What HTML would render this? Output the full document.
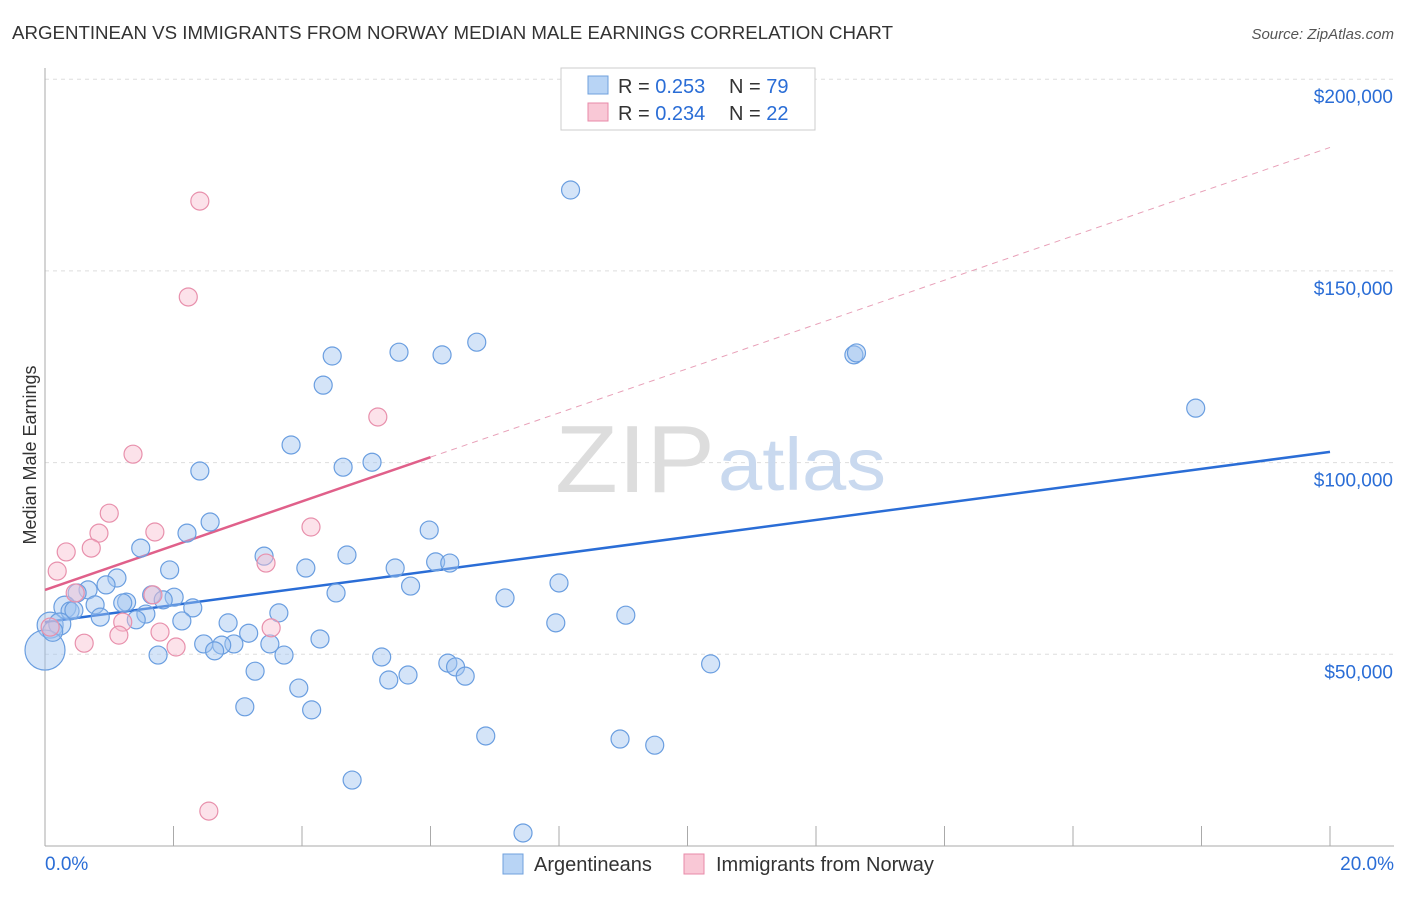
<!DOCTYPE html>
<html><head><meta charset="utf-8"><style>
body{margin:0;background:#fff;font-family:"Liberation Sans",sans-serif;}
svg text{font-family:"Liberation Sans",sans-serif;}
</style></head><body>
<svg id="chart" width="1406" height="892" xmlns="http://www.w3.org/2000/svg">
<text x="12" y="39" font-size="18" fill="#333" textLength="881" lengthAdjust="spacingAndGlyphs">ARGENTINEAN VS IMMIGRANTS FROM NORWAY MEDIAN MALE EARNINGS CORRELATION CHART</text>
<text x="1394" y="39" font-size="15" fill="#555" font-style="italic" text-anchor="end">Source: ZipAtlas.com</text>
<text x="36" y="455" font-size="18" fill="#333" transform="rotate(-90 36 455)" text-anchor="middle">Median Male Earnings</text>
<g id="grid"></g>
<text x="555" y="492" font-size="96" fill="#ddd" textLength="160" lengthAdjust="spacingAndGlyphs" font-family="Liberation Serif">ZIP</text>
<text x="718" y="490" font-size="74" fill="#c9d9ef" textLength="168" lengthAdjust="spacingAndGlyphs">atlas</text>
<g id="lines"></g>
<g id="pts"></g>
<g>
<rect x="561" y="68" width="254" height="62" fill="#fff" stroke="#ccc"/>
<rect x="588" y="76" width="20" height="18" fill="#b8d4f5" stroke="#6fa0dd"/>
<text x="618" y="93" font-size="20" fill="#333">R = <tspan fill="#2a6dd6">0.253</tspan></text>
<text x="729" y="93" font-size="20" fill="#333">N = <tspan fill="#2a6dd6">79</tspan></text>
<rect x="588" y="103" width="20" height="18" fill="#f9c8d6" stroke="#e88aa8"/>
<text x="618" y="120" font-size="20" fill="#333">R = <tspan fill="#2a6dd6">0.234</tspan></text>
<text x="729" y="120" font-size="20" fill="#333">N = <tspan fill="#2a6dd6">22</tspan></text>
</g>
<g>
<rect x="503" y="854" width="20" height="20" fill="#b8d4f5" stroke="#6fa0dd"/>
<text x="534" y="871" font-size="20" fill="#333">Argentineans</text>
<rect x="684" y="854" width="20" height="20" fill="#f9c8d6" stroke="#e88aa8"/>
<text x="716" y="871" font-size="20" fill="#333">Immigrants from Norway</text>
</g>
</svg>
<script>
const yTicks=[50000,100000,150000,200000];
const yTickLabels=["$50,000","$100,000","$150,000","$200,000"];
const xTickLabels=["0.0%","20.0%"];
const blueX=[8.18,6.72,5.51,4.47,6.18,12.59,12.63,4.33,17.91,3.83,4.64,5.09,2.41,2.57,5.98,2.21,1.49,3.41,4.70,6.08,6.30,4.06,5.45,1.94,8.00,1.12,5.69,0.95,0.67,0.50,4.53,1.66,2.01,1.84,7.16,1.27,1.21,0.78,0.31,2.30,0.39,3.64,9.04,0.86,1.57,1.42,2.13,2.85,7.95,0.08,0.23,3.17,4.28,3.50,2.94,2.75,2.47,2.64,3.72,1.76,5.24,0,6.27,6.39,10.36,3.27,6.54,5.65,5.35,3.95,3.11,4.15,6.86,8.95,9.49,4.78,7.44,0.12,0.45];
const blueY=[171.1,131.4,128.8,127.8,128.1,128.1,128.6,120.2,114.2,104.6,98.8,100.1,97.8,84.5,82.4,81.6,77.7,75.6,75.9,74.1,73.8,72.5,72.5,72.0,68.6,69.9,67.8,68.1,66.8,66.0,66.0,65.5,64.9,64.2,64.7,63.6,63.4,62.9,62.3,62.1,61.3,60.8,60.2,59.7,60.5,59.0,58.7,58.2,58.2,57.6,57.9,55.5,54.0,52.7,52.7,52.4,52.7,50.9,49.8,49.8,49.3,51.1,47.7,46.7,47.5,45.6,44.3,44.6,43.3,41.2,36.3,35.5,28.7,27.9,26.3,17.2,3.4,56.0,61.5];
const blueR=[9,9,9,9,9,9,9,9,9,9,9,9,9,9,9,9,9,9,9,9,9,9,9,9,9,9,9,9,9,9,9,9,9,9,9,9,9,9,11,9,9,9,9,9,9,9,9,9,9,13,11,9,9,9,9,9,9,9,9,9,9,20,9,9,9,9,9,9,9,9,9,9,9,9,9,9,9,10,9];
const pinkX=[2.41,2.23,5.18,1.37,1.00,4.14,1.71,0.84,0.33,0.72,3.44,0.19,0.47,1.68,1.21,3.52,0.08,1.79,1.15,2.04,0.61,2.55];
const pinkY=[168.2,143.2,111.9,102.2,86.8,83.2,81.9,81.6,76.7,77.7,73.8,71.7,66.0,65.5,58.4,56.9,57.1,55.8,55.0,51.9,52.9,9.1];
const blueTrend=[58.4,102.8];
const pinkTrend=[66.8,182.2];
const ns="http://www.w3.org/2000/svg";
const X=v=>45+v/20*1285, Y=v=>846-v/50000*191.7;
function mk(t,a,p){const e=document.createElementNS(ns,t);for(const k in a)e.setAttribute(k,a[k]);p.appendChild(e);return e;}
const grid=document.getElementById('grid');
yTicks.forEach((t,i)=>{
 const l=mk('line',{x1:45,x2:1394,y1:Y(t),y2:Y(t),stroke:'#ddd','stroke-dasharray':'4,4'},grid);
 
 
 const tx=mk('text',{x:1393,y:Y(t)+24,'font-size':19,fill:'#2a6dd6','text-anchor':'end'},grid);tx.textContent=yTickLabels[i];
 
 
});
mk('line',{x1:45,x2:45,y1:68,y2:846,stroke:'#aaa'},grid);
mk('line',{x1:45,x2:1394,y1:846,y2:846,stroke:'#aaa'},grid);
for(let i=0;i<=10;i++){mk('line',{x1:X(i*2),x2:X(i*2),y1:826,y2:846,stroke:'#aaa'},grid);}
[[0,'start',45],[1,'end',1394]].forEach(([i,a,x])=>{const t=mk('text',{x:x,y:870,'font-size':19,fill:'#2a6dd6','text-anchor':a},grid);t.textContent=xTickLabels[i];
 
 });
const lines=document.getElementById('lines');
const bl=mk('line',{x1:X(0),y1:Y(blueTrend[0]*1000),x2:X(20),y2:Y(blueTrend[1]*1000),stroke:'#2a6dd6','stroke-width':2.5},lines);


const pm=v=>pinkTrend[0]+(pinkTrend[1]-pinkTrend[0])*v/20;
const pd=mk('line',{x1:X(6),y1:Y(pm(6)*1000),x2:X(20),y2:Y(pm(20)*1000),stroke:'#e8a0b8','stroke-width':1,'stroke-dasharray':'6,5'},lines);


const ps=mk('line',{x1:X(0),y1:Y(pm(0)*1000),x2:X(6),y2:Y(pm(6)*1000),stroke:'#e0608a','stroke-width':2.5},lines);


const pts=document.getElementById('pts');
blueX.forEach((x,i)=>{const c=mk('circle',{cx:X(x),cy:Y(blueY[i]*1000),r:blueR[i],fill:'rgba(160,196,240,0.45)',stroke:'#6a9ee0','stroke-width':1.2},pts);
 
 });
pinkX.forEach((x,i)=>{const c=mk('circle',{cx:X(x),cy:Y(pinkY[i]*1000),r:9,fill:'rgba(248,190,208,0.45)',stroke:'#e890ac','stroke-width':1.2},pts);
 
 });
</script>
</body></html>
